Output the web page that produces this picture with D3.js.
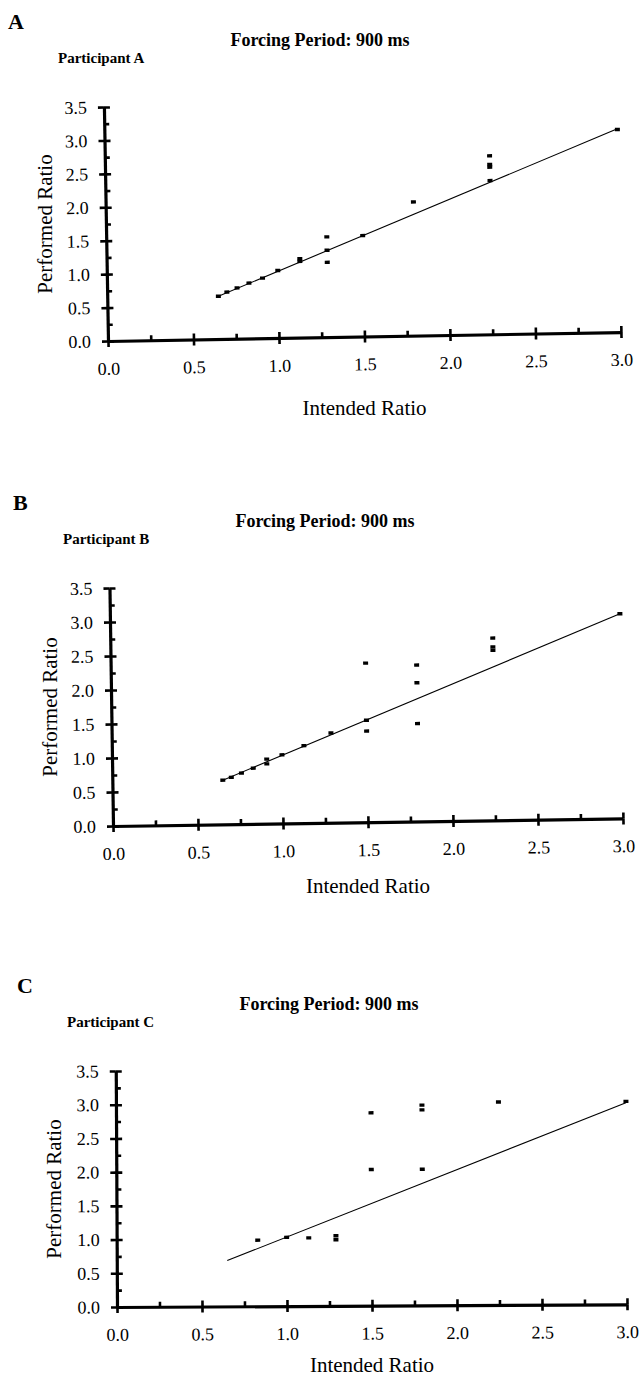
<!DOCTYPE html>
<html>
<head>
<meta charset="utf-8">
<script src="https://cdn.jsdelivr.net/npm/d3@7"></script>
<style>
  body { margin: 0; background: #fff; }
  svg { display: block; }
  svg text { font-family: "Liberation Serif", "DejaVu Serif", serif !important; fill: #000; }
</style>
</head>
<body>
<svg id="canvas" width="641" height="1380"></svg>
<script>
// values
const panelLetters = ["A", "B", "C"];
const participants = ["Participant A", "Participant B", "Participant C"];
const titleText = "Forcing Period: 900 ms";
const xLabel = "Intended Ratio";
const yLabel = "Performed Ratio";

const xTicks = [0, 0.5, 1.0, 1.5, 2.0, 2.5, 3.0];
const xMinor = [0.25, 0.75, 1.25, 1.75, 2.25, 2.75];
const yTicks = [0, 0.5, 1.0, 1.5, 2.0, 2.5, 3.0, 3.5];
const yMinor = [0.25, 0.75, 1.25, 1.75, 2.25, 2.75, 3.25];

const intendedA = [0.65, 0.70, 0.76, 0.83, 0.91, 1.0, 1.13, 1.13, 1.29, 1.29, 1.29, 1.5, 1.8, 2.25, 2.25, 2.25, 2.25, 3.0];
const performedA = [0.64, 0.70, 0.76, 0.83, 0.90, 1.01, 1.14, 1.18, 1.50, 1.30, 1.12, 1.51, 2.00, 2.67, 2.54, 2.50, 2.30, 3.03];
const fitA = [[0.65, 0.64], [3.0, 3.04]];

const intendedB = [0.65, 0.70, 0.76, 0.83, 0.91, 0.91, 1.0, 1.13, 1.29, 1.5, 1.5, 1.5, 1.8, 1.8, 1.8, 2.25, 2.25, 2.25, 3.0];
const performedB = [0.65, 0.69, 0.75, 0.82, 0.95, 0.88, 1.01, 1.14, 1.32, 2.34, 1.50, 1.34, 2.30, 2.04, 1.44, 2.68, 2.55, 2.50, 3.01];
const fitB = [[0.65, 0.65], [3.0, 3.01]];

const intendedC = [0.83, 1.0, 1.13, 1.29, 1.29, 1.5, 1.5, 1.8, 1.8, 1.8, 2.25, 3.0];
const performedC = [0.98, 1.02, 1.01, 1.04, 0.98, 2.86, 2.02, 2.97, 2.90, 2.02, 3.01, 3.01];
const fitC = [[0.65, 0.68], [3.0, 2.99]];

// layout of the three stacked panels (axis origin, axis lengths, scan tilt, x title offset)
const panels = [
  { ox: 108, oy: 341, w: 513, h: 234, tilt: -1.0, xlab: 74, xs: intendedA, ys: performedA, fit: fitA },
  { ox: 113, oy: 826, w: 510, h: 238, tilt: -0.85, xlab: 67, xs: intendedB, ys: performedB, fit: fitB },
  { ox: 117, oy: 1307, w: 510, h: 236, tilt: -0.3, xlab: 65, xs: intendedC, ys: performedC, fit: fitC },
];

const svg = d3.select('#canvas');
const fmt = d3.format('.1f');

panels.forEach((p, i) => {
  const top = p.oy - p.h;

  // header texts
  svg.append("text")
    .attr("x", p.ox - 100).attr("y", top - 78)
    .style("font-size", "22px").style("font-weight", "bold")
    .text(panelLetters[i]);

  svg.append("text")
    .attr("x", p.ox + 212).attr("y", top - 61)
    .attr("text-anchor", "middle")
    .style("font-size", "18px").style("font-weight", "bold")
    .text(titleText);

  svg.append("text")
    .attr("x", p.ox - 50).attr("y", top - 44)
    .style("font-size", "15px").style("font-weight", "bold")
    .text(participants[i]);

  svg.append("text")
    .attr("transform", `translate(${p.ox - 56},${p.oy - p.h / 2}) rotate(-90)`)
    .attr("text-anchor", "middle")
    .style("font-size", "21px")
    .text(yLabel);

  svg.append("text")
    .attr("x", p.ox + p.w / 2).attr("y", p.oy + p.xlab)
    .attr("text-anchor", "middle")
    .style("font-size", "21px")
    .text(xLabel);

  // plot group, tilted slightly like the scanned original
  const g = svg.append("g")
    .attr("transform", `translate(${p.ox},${p.oy}) rotate(${p.tilt})`);

  const x = d3.scaleLinear().domain([0, 3]).range([0, p.w]);
  const y = d3.scaleLinear().domain([0, 3.5]).range([0, -p.h]);

  // x axis: major ticks crossing, minor ticks inside
  g.append("g")
    .call(d3.axisBottom(x).tickValues(xTicks).tickSizeInner(6).tickSizeOuter(0).tickPadding(15).tickFormat(fmt));
  g.append("g")
    .call(d3.axisBottom(x).tickValues(xTicks).tickSizeInner(-6).tickSizeOuter(0).tickFormat(""))
    .call(a => a.select(".domain").remove());
  g.append("g")
    .call(d3.axisBottom(x).tickValues(xMinor).tickSizeInner(-5).tickSizeOuter(0).tickFormat(""))
    .call(a => a.select(".domain").remove());

  // y axis
  g.append("g")
    .call(d3.axisLeft(y).tickValues(yTicks).tickSizeInner(6).tickSizeOuter(0).tickPadding(11).tickFormat(fmt));
  g.append("g")
    .call(d3.axisLeft(y).tickValues(yTicks).tickSizeInner(-6).tickSizeOuter(0).tickFormat(""))
    .call(a => a.select(".domain").remove());
  g.append("g")
    .call(d3.axisLeft(y).tickValues(yMinor).tickSizeInner(-5).tickSizeOuter(0).tickFormat(""))
    .call(a => a.select(".domain").remove());

  g.selectAll("g").attr("font-family", null).attr("font-size", null);
  g.selectAll(".domain").attr("stroke", "#000").attr("stroke-width", 3.2);
  g.selectAll(".tick line").attr("stroke", "#000").attr("stroke-width", 2.6);
  g.selectAll(".tick text")
    .style("font-size", "18px")
    .attr("fill", "#000");

  // regression line
  g.append("path")
    .datum(p.fit)
    .attr("fill", "none")
    .attr("stroke", "#000")
    .attr("stroke-width", 1.1)
    .attr("d", d3.line().x(d => x(d[0])).y(d => y(d[1])));

  // data points
  g.append("g")
    .selectAll("rect")
    .data(p.xs.map((v, k) => [v, p.ys[k]]))
    .join("rect")
    .attr("x", d => x(d[0]) - 2.5)
    .attr("y", d => y(d[1]) - 1.7)
    .attr("width", 5)
    .attr("height", 3.4)
    .attr("fill", "#000");
});
</script>
</body>
</html>
